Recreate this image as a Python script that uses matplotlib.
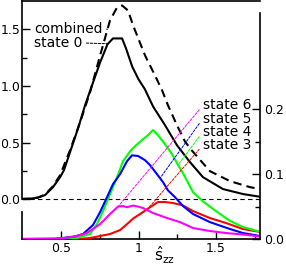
import numpy as np
import matplotlib
matplotlib.use('Agg')
import matplotlib.pyplot as plt

plt.rcParams['font.family'] = ['DejaVu Sans']
plt.rcParams['font.size'] = 10
plt.rcParams['mathtext.fontset'] = 'dejavusans'

# ---- data (left axis: state 0 and combined) ----
x_s0 = [0.248, 0.30, 0.35, 0.397, 0.448, 0.494, 0.519, 0.558, 0.610, 0.655, 0.700, 0.752, 0.800,
        0.835, 0.894, 0.920, 0.960, 1.000, 1.040, 1.094, 1.171, 1.248, 1.332, 1.416, 1.545, 1.674, 1.784]
state0 = [0.004, 0.006, 0.015, 0.038, 0.108, 0.196, 0.258, 0.417, 0.628, 0.831, 1.007, 1.209, 1.370,
          1.421, 1.421, 1.330, 1.170, 1.060, 0.975, 0.820, 0.655, 0.478, 0.329, 0.196, 0.091, 0.047, 0.023]

x_comb = [0.248, 0.30, 0.35, 0.397, 0.448, 0.494, 0.558, 0.623, 0.687, 0.752, 0.816, 0.861, 0.894,
          0.932, 0.965, 1.042, 1.106, 1.152, 1.190, 1.248, 1.300, 1.345, 1.461, 1.590, 1.719, 1.784]
combined = [0.004, 0.006, 0.016, 0.042, 0.117, 0.214, 0.434, 0.681, 0.945, 1.271, 1.580, 1.694, 1.712,
            1.668, 1.536, 1.271, 1.095, 0.963, 0.831, 0.655, 0.510, 0.430, 0.249, 0.161, 0.108, 0.091]

# ---- data (right axis: states 3-6) ----
x_s5 = [0.248, 0.46, 0.513, 0.59, 0.642, 0.706, 0.752, 0.797, 0.835, 0.881, 0.926, 0.958,
        0.997, 1.042, 1.074, 1.119, 1.158, 1.190, 1.235, 1.287, 1.352, 1.461, 1.590, 1.674, 1.784]
state5 = [0.0, 0.0003, 0.0015, 0.004, 0.0077, 0.0215, 0.0415, 0.0646, 0.0846, 0.100, 0.120, 0.129,
          0.128, 0.1215, 0.114, 0.100, 0.0877, 0.075, 0.0646, 0.0508, 0.0385, 0.026, 0.0154, 0.0092, 0.0046]

x_s4 = [0.248, 0.57, 0.603, 0.687, 0.732, 0.771, 0.816, 0.861, 0.900, 0.945, 0.977, 1.029,
        1.061, 1.094, 1.126, 1.171, 1.216, 1.248, 1.287, 1.352, 1.416, 1.500, 1.590, 1.674, 1.784]
state4 = [0.0, 0.0003, 0.0015, 0.0077, 0.023, 0.043, 0.069, 0.095, 0.120, 0.135, 0.143, 0.154,
          0.160, 0.168, 0.160, 0.146, 0.131, 0.117, 0.1015, 0.072, 0.058, 0.043, 0.028, 0.0185, 0.011]

x_s6 = [0.248, 0.46, 0.513, 0.590, 0.668, 0.752, 0.816, 0.868, 0.900, 0.926, 0.965, 0.997,
        1.029, 1.094, 1.184, 1.268, 1.352, 1.461, 1.565, 1.674, 1.784]
state6 = [0.0, 0.0003, 0.0015, 0.0038, 0.0092, 0.023, 0.0385, 0.050, 0.0508, 0.049, 0.0515, 0.050,
          0.0477, 0.040, 0.0323, 0.026, 0.0169, 0.0123, 0.0092, 0.0069, 0.0038]

x_s3 = [0.248, 0.623, 0.687, 0.752, 0.816, 0.881, 0.926, 0.965, 1.029, 1.074, 1.126, 1.171,
        1.223, 1.281, 1.352, 1.461, 1.565, 1.674, 1.784]
state3 = [0.0, 0.0003, 0.0015, 0.0046, 0.0077, 0.0138, 0.023, 0.0315, 0.0415, 0.049, 0.057, 0.057,
          0.0554, 0.0523, 0.043, 0.0323, 0.0246, 0.0154, 0.0108]

x_ticks = [0.5, 1.0, 1.5]
x_ticklabels = ['0.5', '1', '1.5']
yl_ticks = [0.0, 0.5, 1.0, 1.5]
yl_ticklabels = ['0.0', '0.5', '1.0', '1.5']
yr_ticks = [0.0, 0.1, 0.2]
yr_ticklabels = ['0.0', '0.1', '0.2']

# ---- figure ----
W, H = 286, 267
fig = plt.figure(figsize=(W / 100, H / 100), dpi=100)
ax = fig.add_axes([22 / W, 28 / H, 238 / W, 238.5 / H])
ax2 = ax.twinx()

ax.set_xlim(0.248, 1.784)
ax.set_ylim(-0.35, 1.756)
ax2.set_ylim(0, 0.3677)

lw = 1.5
ax.plot(x_s0, state0, color='k', lw=lw)
ax.plot(x_comb, combined, color='k', lw=lw, ls=(0, (4, 2.5)))
ax.axhline(0, color='k', lw=0.8, ls=(0, (4, 3)))

ax2.plot(x_s3, state3, color='#ff0000', lw=lw)
ax2.plot(x_s4, state4, color='#00ff00', lw=lw)
ax2.plot(x_s5, state5, color='#0000ff', lw=lw)
ax2.plot(x_s6, state6, color='#ff00ff', lw=lw)

# spines
ax.spines['right'].set_visible(False)
ax.spines['left'].set_bounds(0, 1.756)
ax2.spines['top'].set_visible(False)
ax2.spines['bottom'].set_visible(False)
ax2.spines['right'].set_bounds(0, 0.349)
ax2.spines['left'].set_bounds(0, 0.0415)
for s in list(ax.spines.values()) + list(ax2.spines.values()):
    s.set_linewidth(1.2)

# ticks
ax.set_xticks(x_ticks)
ax.set_xticklabels(x_ticklabels)
ax.set_xticks([0.75, 1.25, 1.75], minor=True)
ax.set_yticks(yl_ticks)
ax.set_yticklabels(yl_ticklabels)
ax.set_yticks([0.25, 0.75, 1.25], minor=True)
ax.tick_params(which='both', direction='in', top=False, right=False, width=1.0, labelsize=9)
ax.tick_params(which='major', length=5.5)
ax.tick_params(which='minor', length=3.5)
ax.tick_params(axis='y', pad=1)
ax.tick_params(axis='x', pad=2.5)

ax2.set_yticks(yr_ticks)
ax2.set_yticklabels(yr_ticklabels)
ax2.set_yticks([0.05, 0.15], minor=True)
ax2.tick_params(which='both', direction='in', left=False, width=1.0, pad=3, labelsize=9)
ax2.tick_params(which='major', length=5.5)
ax2.tick_params(which='minor', length=3.5)

# x label
ax.text(0.597, -0.07, r'$\hat{\mathrm{s}}_{\mathrm{zz}}$', transform=ax.transAxes,
        ha='center', va='center', fontsize=11)

# annotations
def lead(axis, label, xs, ys, xa, pos, color, dash):
    axis.annotate(label, xy=(xa, np.interp(xa, xs, ys)), xytext=pos, textcoords='axes fraction',
                  ha='left', va='center',
                  arrowprops=dict(arrowstyle='-', color=color, lw=0.7, ls=dash,
                                  shrinkA=1, shrinkB=0, relpos=(1, 0.5) if pos[0] < 0.5 else (0, 0.5)))

lead(ax, 'combined', x_comb, combined, 0.80, (0.05, 0.88), 'k', (0, (2.5, 1.5)))
lead(ax, 'state 0', x_s0, state0, 0.803, (0.05, 0.822), 'k', (0, (2.5, 1.5)))
lead(ax2, 'state 6', x_s6, state6, 0.868, (0.76, 0.56), '#ff00ff', (0, (2.5, 1.5)))
lead(ax2, 'state 5', x_s5, state5, 1.139, (0.76, 0.505), '#0000ff', (0, (2.5, 1.5)))
lead(ax2, 'state 4', x_s4, state4, 1.255, (0.76, 0.449), '#00ff00', (0, (2.5, 1.5)))
lead(ax2, 'state 3', x_s3, state3, 1.06, (0.76, 0.394), '#ff0000', (0, (2.5, 1.5)))

fig.savefig('out.png', dpi=100)
